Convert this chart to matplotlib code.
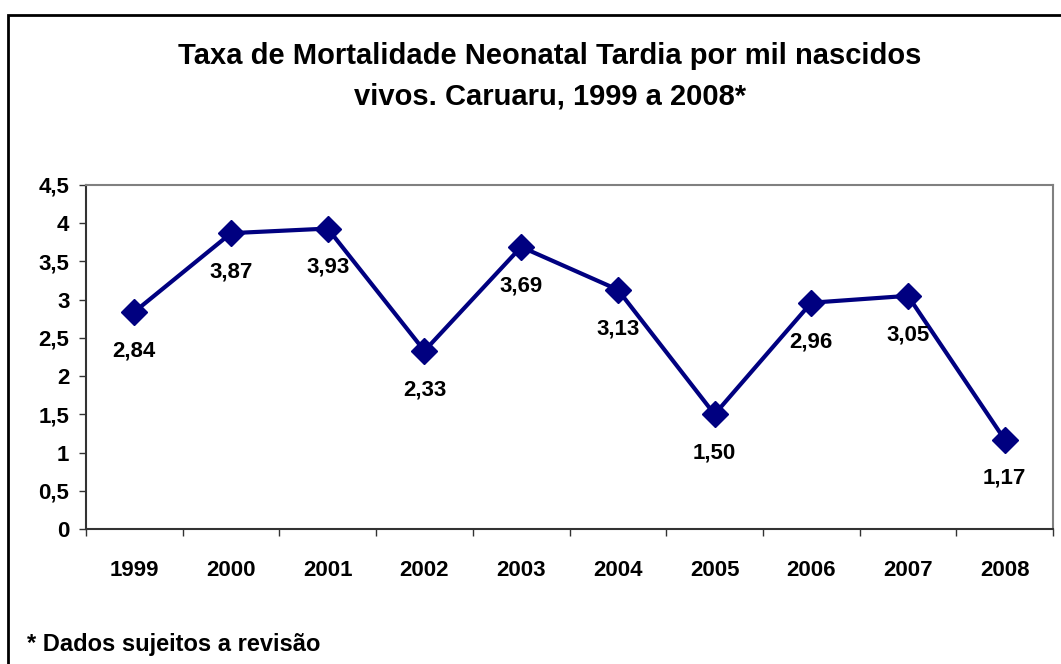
import matplotlib.pyplot as plt
from matplotlib.patches import Rectangle

plt.rcParams['font.family'] = ['Liberation Sans', 'DejaVu Sans']
plt.rcParams['font.weight'] = 'bold'

# dados
anos = ['1999', '2000', '2001', '2002', '2003', '2004', '2005', '2006', '2007', '2008']
taxas = [2.84, 3.87, 3.93, 2.33, 3.69, 3.13, 1.50, 2.96, 3.05, 1.17]
y_ticks = [0, 0.5, 1, 1.5, 2, 2.5, 3, 3.5, 4, 4.5]

titulo = 'Taxa de Mortalidade Neonatal Tardia por mil nascidos\nvivos. Caruaru, 1999 a 2008*'
nota = '* Dados sujeitos a revisão'

def virgula(v, casas=None):
    if casas is None:
        s = ('%g' % v)
    else:
        s = ('%.' + str(casas) + 'f') % v
    return s.replace('.', ',')

fig = plt.figure(figsize=(10.61, 6.64), dpi=100)
ax = fig.add_axes([86/1061, 1-529/664, (1053-86)/1061, (529-185)/664])

# moldura externa
fig.patches.append(Rectangle((8/1061, -0.1), 1.2, 1 - 15/664 + 0.1, transform=fig.transFigure,
                             fill=False, edgecolor='black', linewidth=2, zorder=0))

x = list(range(len(anos)))
ax.plot(x, taxas, color='#000080', linewidth=3, marker='D', markersize=13,
        markerfacecolor='#000080', markeredgecolor='#000080', zorder=3)

for xi, v in zip(x, taxas):
    ax.annotate(virgula(v, 2), (xi, v), xytext=(0, -28), textcoords='offset points',
                ha='center', va='center', fontsize=16, fontweight='bold')

ax.set_xlim(-0.5, len(anos) - 0.5)
ax.set_ylim(0, 4.5)
ax.set_yticks(y_ticks)
ax.set_yticklabels([virgula(t) for t in y_ticks], fontsize=16, fontweight='bold')
ax.set_xticks(x)
ax.set_xticklabels(anos, fontsize=16, fontweight='bold')
ax.set_xticks([i - 0.5 for i in range(len(anos) + 1)], minor=True)
ax.tick_params(axis='x', which='major', length=0, pad=22)
ax.tick_params(axis='x', which='minor', length=5, width=1, color='#333333', direction='out')
ax.tick_params(axis='y', length=5, width=1, color='#333333', direction='out', pad=7)

for lado in ['top', 'right']:
    ax.spines[lado].set_color('#808080')
    ax.spines[lado].set_linewidth(1.5)
for lado in ['left', 'bottom']:
    ax.spines[lado].set_color('#333333')
    ax.spines[lado].set_linewidth(1.5)

fig.text(550/1061, 1 - 76/664, titulo, ha='center', va='center', fontsize=21,
         fontweight='bold', linespacing=1.55)
fig.text(27/1061, 1 - 645/664, nota, ha='left', va='center', fontsize=17, fontweight='bold')

fig.savefig('out.png', dpi=100)
